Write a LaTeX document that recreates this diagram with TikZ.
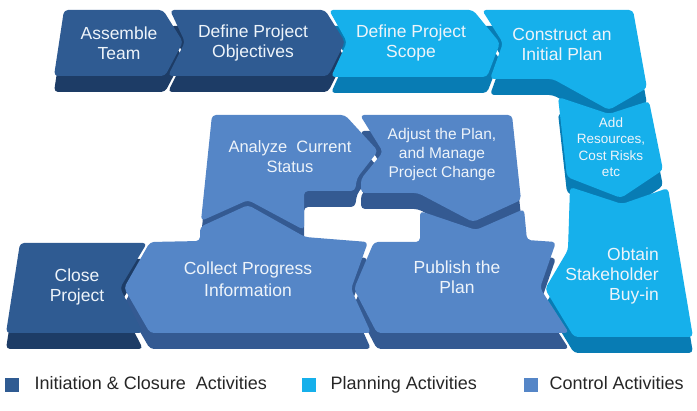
\documentclass[tikz,border=0pt]{standalone}
\usepackage{fontspec}
\setmainfont{Liberation Sans}
\usetikzlibrary{positioning}
\definecolor{inittop}{RGB}{47,91,146}
\definecolor{initside}{RGB}{29,60,102}
\definecolor{plantop}{RGB}{22,176,235}
\definecolor{planside}{RGB}{8,124,180}
\definecolor{ctrltop}{RGB}{85,134,199}
\definecolor{ctrlside}{RGB}{52,90,146}
\definecolor{labelwhite}{RGB}{238,244,250}
\definecolor{legendgray}{RGB}{38,38,38}

\begin{document}
\begin{tikzpicture}[
  x=1pt, y=-1pt,
  step_label/.style={text=labelwhite, align=center, inner sep=0pt, font=\fontsize{17.5}{20}\selectfont},
  small_label/.style={step_label, font=\fontsize{13.5}{16.5}\selectfont},
  legend_box/.style={minimum size=14pt, inner sep=0pt},
  legend_text/.style={text=legendgray, text height=13pt, text depth=4pt, font=\fontsize{18}{20}\selectfont},
]
\useasboundingbox (0,0) rectangle (697,411);

% first pass: the front sides, second pass: the top faces
\foreach \dy/\ci/\cp/\cc in {16/initside/planside/ctrlside, 0/inittop/plantop/ctrltop} {
  \begin{scope}[yshift=-\dy, rounded corners=4]
  % initiation row
  \fill[fill=\ci] (64,10) -- (163,10) -- (183,42) -- (165,76) -- (54,76) -- cycle;
  \fill[fill=\ci] (170,10) -- (325,10) -- (345,42) -- (328,76) -- (168,76) -- (185,42) -- cycle;
  % planning row and column
  \fill[fill=\cp] (329,10) -- (473,10) -- (500,43) -- (487,77) -- (331,77) -- (347,42) -- cycle;
  \fill[fill=\cp] (482,10) -- (633,10) -- (647,88) -- (609,110) -- (553,79) -- (490,79) -- (503,43) -- cycle;
  \fill[fill=\cp] (558,97) -- (609,114) -- (649,101) -- (663,170) -- (621,198) -- (567,177) -- cycle;
  \fill[fill=\cp] (570,187) -- (622,204) -- (668,188) -- (693,337) -- (574,337) -- (545,289) -- (568,250) -- cycle;
  % control loop
  \fill[fill=\cc] (212,115) -- (345,115) -- (378,151) -- (357,178) -- (355,191) -- (304,191) -- (304,230) -- (248,200) -- (201,221) -- cycle;
  \fill[fill=\cc] (360,115) -- (512,115) -- (521,200) -- (473,222) -- (418,193) -- (361,193) -- (361,179) -- (383,152) -- cycle;
  \fill[fill=\cc] (150,242) -- (200,241) -- (200,227) -- (248,205) -- (305,237) -- (368,242) -- (351,289) -- (371,333) -- (150,333) -- (124,288) -- cycle;
  \fill[fill=\cc] (374,242) -- (420,242) -- (420,211) -- (476,230) -- (524,209) -- (527,240) -- (556,242) -- (540,288) -- (569,333) -- (377,333) -- (354,289) -- cycle;
  % closure
  \fill[fill=\ci] (20,243) -- (147,243) -- (120,288) -- (143,333) -- (6,333) -- cycle;
  \end{scope}
}

\node[step_label] (assemble) at (119,43) {Assemble\\Team};
\node[step_label] (objectives) at (253,43) {Define Project\\Objectives};
\node[step_label] (scope) at (411,43) {Define Project\\Scope};
\node[step_label] (construct) at (562,44) {Construct an\\Initial Plan};
\node[small_label] (resources) at (611,147) {Add\\Resources,\\Cost Risks\\etc};
\node[step_label, align=right, anchor=east] (buyin) at (659,276) {Obtain\\Stakeholder\\Buy-in};
\node[step_label, font=\fontsize{16.5}{20}\selectfont] (analyze) at (290,157) {Analyze~ Current\\Status};
\node[step_label, font=\fontsize{15.5}{19}\selectfont] (adjust) at (442,154) {Adjust the Plan,\\and Manage\\Project Change};
\node[step_label, font=\fontsize{17.5}{22}\selectfont] (collect) at (248,279) {Collect Progress\\Information};
\node[step_label] (publish) at (457,277) {Publish the\\Plan};
\node[step_label] (close) at (77,287) {Close\\Project};

% legend
\node[legend_box, fill=inittop] (key_init) at (12,385) {};
\node[legend_text, right=12pt of key_init] (txt_init) {Initiation \& Closure~ Activities};
\node[legend_box, fill=plantop] (key_plan) at (309,385) {};
\node[legend_text, right=11pt of key_plan] (txt_plan) {Planning Activities};
\node[legend_box, fill=ctrltop] (key_ctrl) at (531,385) {};
\node[legend_text, right=8pt of key_ctrl] (txt_ctrl) {Control Activities};
\end{tikzpicture}
\end{document}
